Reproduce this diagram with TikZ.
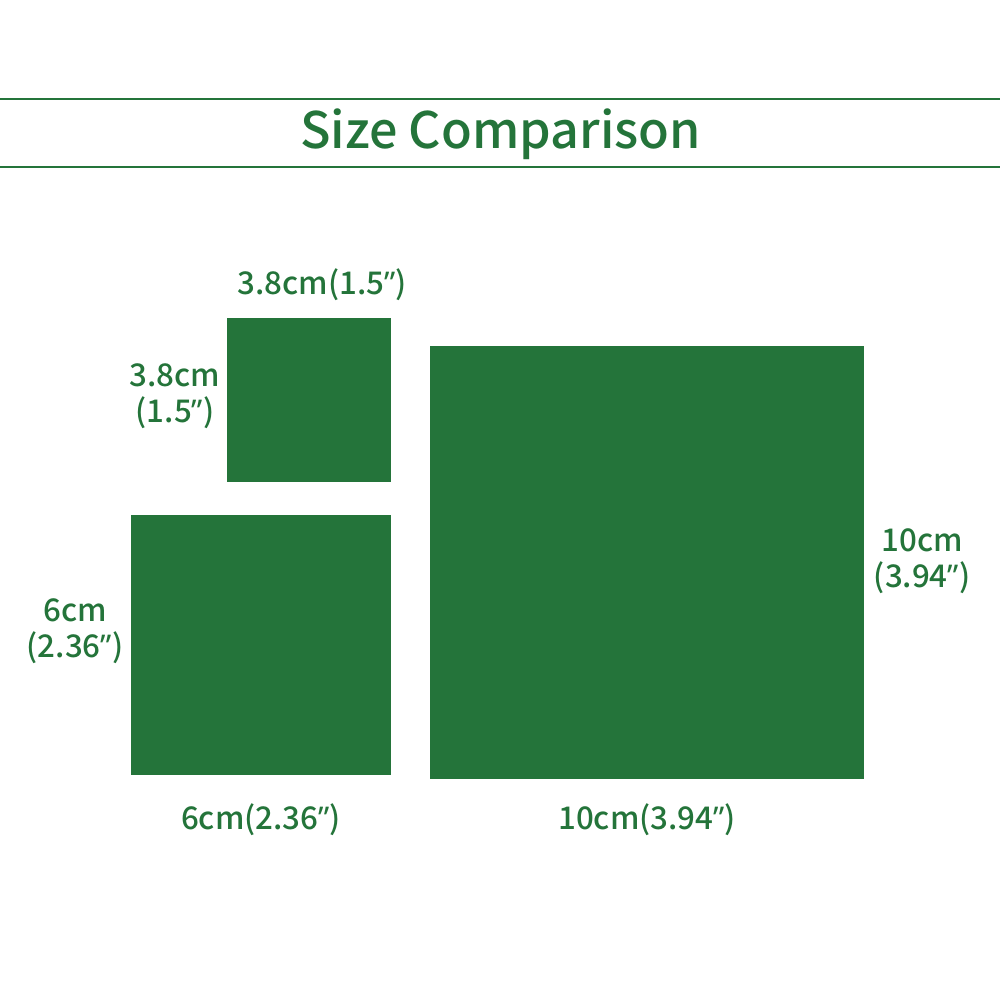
\documentclass[tikz,border=0pt]{standalone}
\usepackage{fontspec}
\setmainfont{Noto Sans CJK SC}[UprightFont={* Medium}, BoldFont={* Bold}]
\newfontfamily\quotefont{Noto Sans}
\usetikzlibrary{positioning}
\definecolor{sizegreen}{HTML}{24743A}
\newcommand{\inchmark}{{\quotefont ”}}

\begin{document}
\begin{tikzpicture}[
    swatch/.style={fill=sizegreen, draw=none},
    dimlabel/.style={text=sizegreen, font=\fontsize{8.9}{10.2}\selectfont, align=center, inner sep=0pt},
    rule/.style={draw=sizegreen, line width=0.6pt},
]
\useasboundingbox (0,0) rectangle (10,10);

% Title band
\coordinate (ruletopL) at (0,9.01);
\coordinate (ruletopR) at (10,9.01);
\coordinate (rulebotL) at (0,8.33);
\coordinate (rulebotR) at (10,8.33);
\draw[rule] (ruletopL) -- (ruletopR);
\draw[rule] (rulebotL) -- (rulebotR);
\node[text=sizegreen, font=\fontsize{14.3}{17}\selectfont, inner sep=0pt] (title) at (5.005,8.655) {Size Comparison};

% Squares
\path[swatch] (2.27,5.18) rectangle (3.91,6.82) node[midway] (small) {};
\path[swatch] (1.31,2.25) rectangle (3.91,4.85) node[midway] (medium) {};
\path[swatch] (4.30,2.21) rectangle (8.64,6.54) node[midway] (large) {};

% Size labels
\node[dimlabel] (smalltop) at (3.22,7.15) {3.8cm(1.5\inchmark)};
\node[dimlabel] (smallside) at (1.75,6.04) {3.8cm\\(1.5\inchmark)};
\node[dimlabel] (medside) at (0.75,3.69) {6cm\\(2.36\inchmark)};
\node[dimlabel] (medbottom) at (2.61,1.80) {6cm(2.36\inchmark)};
\node[dimlabel] (largebottom) at (6.47,1.80) {10cm(3.94\inchmark)};
\node[dimlabel] (largeside) at (9.22,4.39) {10cm\\(3.94\inchmark)};

\end{tikzpicture}
\end{document}
